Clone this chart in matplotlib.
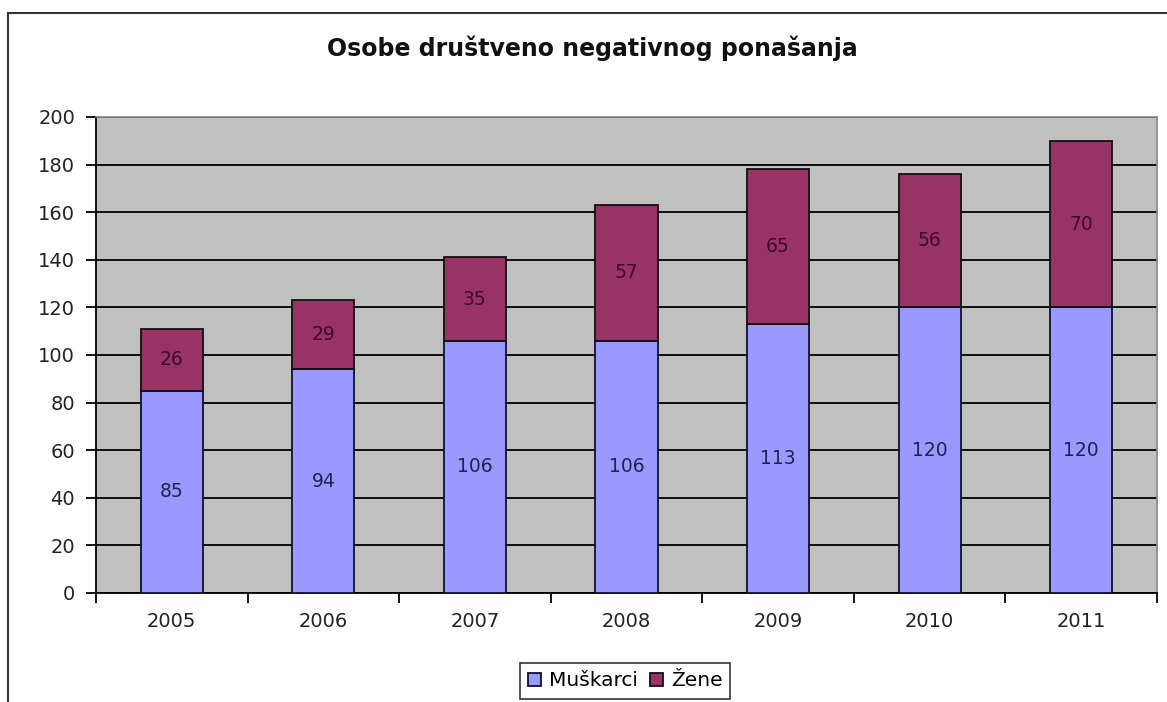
import numpy as np
import matplotlib.pyplot as plt
from matplotlib.patches import Rectangle

# --- Data ---
years = ["2005", "2006", "2007", "2008", "2009", "2010", "2011"]
muskarci = [85, 94, 106, 106, 113, 120, 120]
zene = [26, 29, 35, 57, 65, 56, 70]
y_ticks = [0, 20, 40, 60, 80, 100, 120, 140, 160, 180, 200]

plt.rcParams['font.family'] = ['DejaVu Sans']

fig = plt.figure(figsize=(11.67, 7.02), dpi=100)
ax = fig.add_axes([96 / 1167, 1 - 593 / 702, (1157 - 96) / 1167, (593 - 117) / 702])
ax.set_facecolor('#C0C0C0')

x = np.arange(len(years))
bar_w = 0.41
b1 = ax.bar(x, muskarci, width=bar_w, color='#9999FF', edgecolor='#101030',
            linewidth=1.3, label='Muškarci', zorder=3)
b2 = ax.bar(x, zene, width=bar_w, bottom=muskarci, color='#993366',
            edgecolor='#101010', linewidth=1.3, label='Žene', zorder=3)

# Vrijednosti u sredini segmenata
for xi, m, z in zip(x, muskarci, zene):
    ax.text(xi, m / 2, str(m), ha='center', va='center', fontsize=13.5,
            color='#22224f', zorder=4)
    ax.text(xi, m + z / 2, str(z), ha='center', va='center', fontsize=13.5,
            color='#3e0a28', zorder=4)

ax.set_xlim(-0.5, len(years) - 0.5)
ax.set_ylim(0, 200)
ax.set_yticks(y_ticks)
ax.yaxis.grid(True, color='black', linewidth=1.3, zorder=1)
ax.set_axisbelow(True)

ax.set_xticks(x)
ax.set_xticklabels(years, fontsize=14, color='#222222')
ax.set_xticks(np.arange(-0.5, len(years)), minor=True)
ax.tick_params(axis='x', which='major', length=0, pad=14)
ax.tick_params(axis='x', which='minor', length=7, width=1.3, color='black')
ax.tick_params(axis='y', length=7, width=1.3, labelsize=14, labelcolor='#222222', pad=8)

for side in ['top', 'right']:
    ax.spines[side].set_color('#888888')
    ax.spines[side].set_linewidth(1.2)
for side in ['left', 'bottom']:
    ax.spines[side].set_color('black')
    ax.spines[side].set_linewidth(1.3)

fig.text(592 / 1167, 1 - 48 / 702, "Osobe društveno negativnog ponašanja",
         ha='center', va='center', fontsize=17, fontweight='bold', color='#111111')

leg = fig.legend(handles=[b1, b2], loc='center', bbox_to_anchor=(625 / 1167, 1 - 681 / 702),
                 ncol=2, fontsize=14.5, frameon=True, fancybox=False,
                 handlelength=0.65, handleheight=0.65, handletextpad=0.4,
                 columnspacing=0.6, borderpad=0.4, borderaxespad=0)
leg.get_frame().set_edgecolor('black')
leg.get_frame().set_linewidth(1.2)

# Vanjski okvir grafikona
fig.patches.append(Rectangle((8 / 1167, -0.05), 1.1, 1 - 13 / 702 + 0.05,
                             transform=fig.transFigure, fill=False,
                             edgecolor='#333333', linewidth=1.5))

fig.savefig('out.png', dpi=100)
